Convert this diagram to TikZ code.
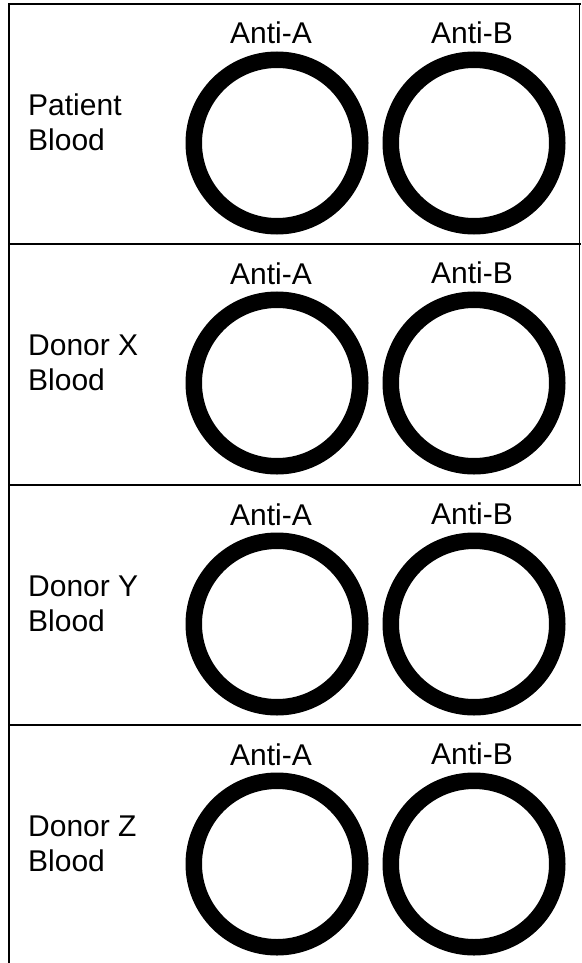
\documentclass[tikz,border=0pt]{standalone}
\usepackage{fontspec}
\setmainfont{Liberation Sans}
\usetikzlibrary{positioning}

\tikzset{
  dish/.style={circle,draw,line width=16.5pt,minimum size=166.5pt,inner sep=0pt},
  tag/.style={font=\fontsize{30}{35}\selectfont,inner sep=0pt},
  rule/.style={line width=2.5pt},
}

\begin{document}
\begin{tikzpicture}[x=1pt,y=-1pt]
  \useasboundingbox (0,0) rectangle (581,963);
  % frame and row rules
  \draw[rule] (9,963) -- (9,4) -- (581,4);
  \draw[line width=1.5pt] (579.5,4) -- (579.5,485);
  \draw[rule] (9,244) -- (581,244);
  \draw[rule] (9,485) -- (581,485);
  \draw[rule] (9,725) -- (581,725);
  % one row per blood sample
  \foreach \r/\top/\who in {pat/4/Patient, dx/244/Donor X, dy/485/Donor Y, dz/725/Donor Z}{
    \node[tag,align=left,anchor=west] (\r) at (28,\top+118.5) {\who\\Blood};
    \node[dish] (\r-a) at (277,\top+139) {};
    \node[dish] (\r-b) at (474,\top+139) {};
    \node[tag,anchor=base] (\r-la) at (271,\top+40) {Anti-A};
    \node[tag,anchor=base] (\r-lb) at (472,\top+39.5) {Anti-B};
  }
\end{tikzpicture}
\end{document}
